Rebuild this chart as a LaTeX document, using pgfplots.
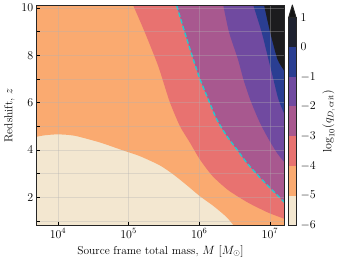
\documentclass[border=0pt]{standalone}
\usepackage{pgfplots}
\pgfplotsset{compat=1.18}
\definecolor{cBeige}{RGB}{243,231,208}
\definecolor{cOrange}{RGB}{250,170,112}
\definecolor{cSalmon}{RGB}{232,114,112}
\definecolor{cPink}{RGB}{168,88,143}
\definecolor{cPurple}{RGB}{112,74,160}
\definecolor{cBlue}{RGB}{42,62,146}
\definecolor{cBlack}{RGB}{28,28,30}
\definecolor{cNavy}{RGB}{30,34,48}
\definecolor{cCyan}{RGB}{40,200,205}
\definecolor{cFrame}{RGB}{38,38,38}
\begin{document}
\begin{tikzpicture}[font=\fontsize{11.5}{14}\selectfont]
\begin{axis}[name=main, scale only axis, width=247.6bp, height=219.8bp,
  xmode=log, xmin=5000, xmax=1.6e7, ymin=0.82, ymax=10.1,
  xtick={1e4,1e5,1e6,1e7}, xminorticks=false,
  ytick={2,4,6,8,10}, minor ytick={1,3,5,7,9},
  tick align=inside, xtick pos=bottom, ytick pos=left,
  major tick length=3.5bp, minor tick length=3.5bp,
  tick style={black, line width=0.7pt},
  axis line style={cFrame, line width=1pt},
  xmajorgrids, ymajorgrids, yminorgrids,
  grid style={color=gray!60, opacity=0.35, line width=0.5pt},
  axis on top,
  xlabel={Source frame total mass, $M$ $[M_\odot]$},
  ylabel={Redshift, $z$},
  every axis plot/.append style={smooth, tension=0.4},
]
\addplot[fill=cBeige, draw=none, sharp plot] coordinates {(4000,0.5) (2.5e7,0.5) (2.5e7,11) (4000,11)} -- cycle;
\addplot[fill=cOrange, draw=none] coordinates {(4000,4.5) (5000,4.56) (6470,4.62) (1.0e4,4.66) (1.73e4,4.60) (3.90e4,4.32) (7.50e4,4.03) (1.44e5,3.74) (2.77e5,3.35) (4.28e5,2.97) (6.62e5,2.52) (1.02e6,2.05) (1.58e6,1.64) (2.39e6,1.19) (3.01e6,0.84) (3.2e6,0.6) (2.5e7,0.6) (2.5e7,11) (4000,11)} -- cycle;
\addplot[fill=cSalmon, draw=none] coordinates {(1.05e5,10.4) (1.16e5,10.11) (1.70e5,8.96) (2.62e5,7.55) (3.80e5,6.05) (5.32e5,5.01) (7.38e5,4.31) (1.02e6,3.60) (1.54e6,2.90) (2.58e6,2.30) (4.95e6,1.77) (9.53e6,1.35) (1.61e7,1.09) (2e7,0.95) (2.5e7,0.95) (2.5e7,11) (1.05e5,11)} -- cycle;
\addplot[fill=cPink, draw=none] coordinates {(4.51e5,10.37) (4.78e5,10.11) (6.24e5,8.96) (8.22e5,7.83) (1.023e6,6.99) (1.34e6,6.14) (1.77e6,5.29) (2.45e6,4.59) (3.39e6,4.03) (4.70e6,3.46) (7.26e6,2.83) (1.12e7,2.26) (1.55e7,1.84) (1.93e7,1.56) (2.5e7,1.56) (2.5e7,11) (4.51e5,11)} -- cycle;
\addplot[fill=cPurple, draw=none] coordinates {(2.13e6,10.37) (2.19e6,10.11) (2.64e6,8.97) (3.53e6,7.83) (4.21e6,6.99) (5.24e6,6.14) (6.87e6,5.29) (9.04e6,4.59) (1.25e7,3.89) (1.61e7,3.48) (2e7,3.2) (2.5e7,3.2) (2.5e7,11) (2.13e6,11)} -- cycle;
\addplot[fill=cBlue, draw=none] coordinates {(5.56e6,10.37) (5.83e6,10.11) (7.67e6,8.96) (9.53e6,7.83) (1.12e7,6.99) (1.32e7,6.14) (1.61e7,5.51) (2e7,5.0) (2.5e7,5.0) (2.5e7,11) (5.56e6,11)} -- cycle;
\addplot[fill=cBlack, draw=none] coordinates {(8.02e6,10.37) (8.28e6,10.11) (1.01e7,8.96) (1.28e7,7.83) (1.61e7,7.32) (2e7,6.8) (2.5e7,6.8) (2.5e7,11) (8.02e6,11)} -- cycle;
\addplot[cCyan, line width=1.4bp, dash pattern=on 4.5bp off 2.5bp] coordinates {(4.51e5,10.37) (4.78e5,10.11) (6.24e5,8.96) (8.22e5,7.83) (1.023e6,6.99) (1.34e6,6.14) (1.77e6,5.29) (2.45e6,4.59) (3.39e6,4.03) (4.70e6,3.46) (7.26e6,2.83) (1.12e7,2.26) (1.55e7,1.84) (1.93e7,1.56)};
\end{axis}
\begin{axis}[at={(main.south east)}, anchor=south west, xshift=4.4bp,
  scale only axis, width=7.3bp, height=208bp,
  xmin=0, xmax=1, ymin=-6, ymax=1,
  xtick=\empty, ytick={-6,-5,...,1},
  yticklabel pos=right, ytick pos=right, major tick length=0pt,
  axis line style={cFrame, line width=0.9pt},
  clip=false, axis on top,
  ylabel={$\log_{10}(q_{D,\,\mathrm{crit}})$}, ylabel near ticks,
  yticklabel style={xshift=1bp},
]
\addplot[fill=cBeige, draw=none] coordinates {(0,-6) (1,-6) (1,-5) (0,-5)} -- cycle;
\addplot[fill=cOrange, draw=none] coordinates {(0,-5) (1,-5) (1,-4) (0,-4)} -- cycle;
\addplot[fill=cSalmon, draw=none] coordinates {(0,-4) (1,-4) (1,-3) (0,-3)} -- cycle;
\addplot[fill=cPink, draw=none] coordinates {(0,-3) (1,-3) (1,-2) (0,-2)} -- cycle;
\addplot[fill=cPurple, draw=none] coordinates {(0,-2) (1,-2) (1,-1) (0,-1)} -- cycle;
\addplot[fill=cBlue, draw=none] coordinates {(0,-1) (1,-1) (1,0) (0,0)} -- cycle;
\addplot[fill=cNavy, draw=none] coordinates {(0,0) (1,0) (1,1) (0,1)} -- cycle;
\addplot[fill=black!92, draw=cFrame, line width=0.9pt, line join=round] coordinates {(0,1) (0.5,1.414) (1,1)} -- cycle;
\end{axis}
\pgfresetboundingbox
\path[use as bounding box] ([xshift=-36.7bp,yshift=-36.7bp]main.south west) rectangle ([xshift=302.3bp,yshift=225.3bp]main.south west);
\end{tikzpicture}
\end{document}
